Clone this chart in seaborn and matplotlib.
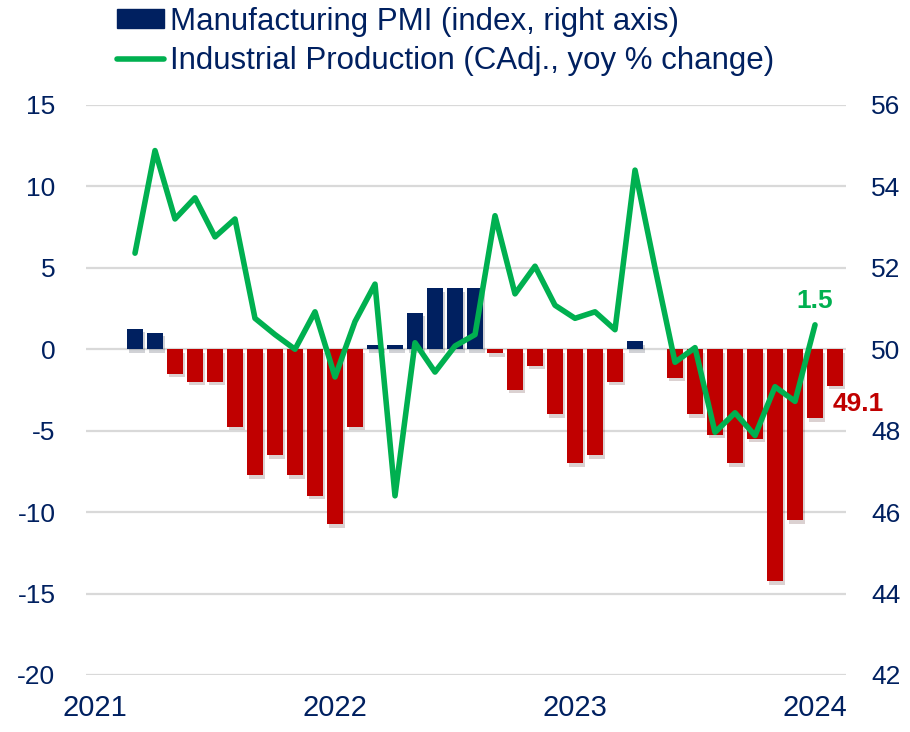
import numpy as np
import matplotlib
matplotlib.use('Agg')
import matplotlib.pyplot as plt
import matplotlib.patheffects as pe
from matplotlib.patches import Patch
from matplotlib.lines import Line2D
import seaborn as sns

sns.set_style('white')
plt.rcParams['font.family'] = ['Liberation Sans', 'DejaVu Sans']
plt.rcParams['axes.unicode_minus'] = False

NAVY = '#002060'
RED = '#C00000'
GREEN = '#00B050'

# months counted from Jan 2021 (0 = Jan 2021)
pmi_months = list(range(2, 38))   # Mar 2021 .. Feb 2024
pmi = [50.5, 50.4, 49.4, 49.2, 49.2, 48.1, 46.9, 47.4, 46.9, 46.4, 45.7, 48.1,
       50.1, 50.1, 50.9, 51.5, 51.5, 51.5, 49.9, 49.0, 49.6, 48.4, 47.2, 47.4,
       49.2, 50.2, 50.0, 49.3, 48.4, 47.9, 47.2, 47.8, 44.3, 45.8, 48.3, 49.1]

ip_months = list(range(2, 37))    # Mar 2021 .. Jan 2024
ip = [5.9, 12.2, 8.0, 9.3, 6.9, 8.0, 1.9, 0.9, 0.0, 2.3, -1.7, 1.7,
      4.0, -9.0, 0.4, -1.4, 0.2, 0.9, 8.2, 3.4, 5.1, 2.7, 1.9, 2.3,
      1.2, 11.0, 5.0, -0.8, 0.1, -5.1, -3.9, -5.3, -2.3, -3.2, 1.5]

year_ticks = [0, 12, 24, 36]
year_labels = ['2021', '2022', '2023', '2024']

fig = plt.figure(figsize=(9.1, 7.32), dpi=100)
ax = fig.add_axes([0.0945, 0.0779, 0.8352, 0.7787])
ax2 = ax.twinx()

# bars on the right axis, measured from 50
dev = np.array(pmi) - 50
sign = np.where(dev >= 0, 'up', 'down')
sns.barplot(x=pmi_months, y=dev, bottom=50, hue=sign, palette={'up': NAVY, 'down': RED},
            native_scale=True, width=0.8, saturation=1, legend=False, ax=ax2, linewidth=0)
for p in ax2.patches:
    p.set_path_effects([pe.SimplePatchShadow(offset=(1.5, -2.5), alpha=0.18), pe.Normal()])

sns.lineplot(x=ip_months, y=ip, color=GREEN, lw=4, ax=ax, solid_joinstyle='round',
             solid_capstyle='round')

ax.set_zorder(ax2.get_zorder() + 1)
ax.patch.set_visible(False)

ax.set_xlim(-0.45, 37.55)
ax.set_ylim(-20, 15)
ax2.set_ylim(42, 56)
ax.set_yticks(np.arange(-20, 16, 5))
ax2.set_yticks(np.arange(42, 57, 2))
ax2.grid(axis='y', color='#D9D9D9', lw=1.6)
ax2.set_axisbelow(True)
ax.grid(False)

ax.set_xticks(year_ticks)
ax.set_xticklabels(year_labels, fontsize=21, color=NAVY)
ax.tick_params(axis='x', length=0, pad=14)
ax.tick_params(axis='y', length=0, pad=22, labelsize=19, labelcolor=NAVY)
ax2.tick_params(axis='y', length=0, pad=18, labelsize=19, labelcolor=NAVY)
for a in (ax, ax2):
    for s in a.spines.values():
        s.set_visible(False)

ax.text(ip_months[-1], ip[-1] + 0.75, '1.5', color=GREEN, fontsize=19, fontweight='bold',
        ha='center', va='bottom')
ax2.text(pmi_months[-1] + 1.15, pmi[-1] - 0.15, '49.1', color=RED, fontsize=19,
         fontweight='bold', ha='center', va='top')

handles = [Patch(color=NAVY), Line2D([0], [0], color=GREEN, lw=4)]
labels = ['Manufacturing PMI (index, right axis)', 'Industrial Production (CAdj., yoy % change)']
leg = fig.legend(handles, labels, loc='upper left', bbox_to_anchor=(0.115, 1.008),
                 frameon=False, handlelength=1.5, handleheight=0.55, handletextpad=0.2,
                 labelspacing=0.3, borderaxespad=0, prop={'size': 22.5})
for t in leg.get_texts():
    t.set_color(NAVY)

fig.savefig('out.png', dpi=100)
